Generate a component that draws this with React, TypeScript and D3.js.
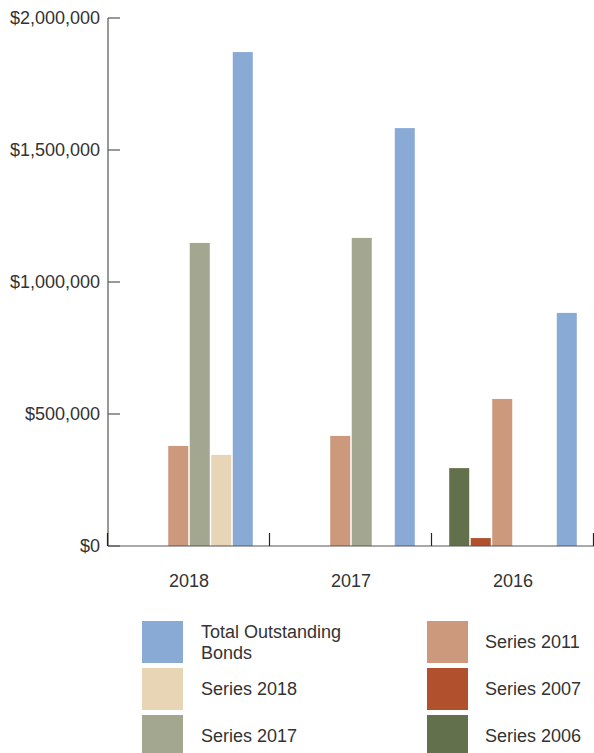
import React from "react";
import * as d3 from "d3";

const categories = ["2018", "2017", "2016"];
const seriesKeys = ["Series 2006", "Series 2007", "Series 2011", "Series 2017", "Series 2018", "Total Outstanding Bonds"];
const series2006 = [0, 0, 295000];
const series2007 = [0, 0, 30000];
const series2011 = [379000, 417000, 557000];
const series2017 = [1148000, 1167000, 0];
const series2018 = [345000, 0, 0];
const totalOutstanding = [1871000, 1583000, 883000];
const yTicks = [0, 500000, 1000000, 1500000, 2000000];
const colors = ["#62704b", "#b0502d", "#cc997d", "#a4a790", "#e8d5b5", "#8aaad6"];

const seriesValues = [series2006, series2007, series2011, series2017, series2018, totalOutstanding];

const legendLeft = [
  { key: "Total Outstanding Bonds", lines: ["Total Outstanding", "Bonds"], color: colors[5] },
  { key: "Series 2018", lines: ["Series 2018"], color: colors[4] },
  { key: "Series 2017", lines: ["Series 2017"], color: colors[3] },
];
const legendRight = [
  { key: "Series 2011", lines: ["Series 2011"], color: colors[2] },
  { key: "Series 2007", lines: ["Series 2007"], color: colors[1] },
  { key: "Series 2006", lines: ["Series 2006"], color: colors[0] },
];

const W = 594;
const H = 753;
const left = 108;
const right = 594;
const top = 18;
const bottom = 546;
const font = "Arial, 'Liberation Sans', sans-serif";
const textColor = "#333";
const fs = 18;

export default function App() {
  const x0 = d3.scaleBand<string>().domain(categories).range([left, right]).paddingInner(0).paddingOuter(0);
  const x1 = d3
    .scaleBand<string>()
    .domain(seriesKeys)
    .range([0, x0.bandwidth()])
    .paddingInner(0.07)
    .paddingOuter(0.8);
  const y = d3.scaleLinear().domain([0, 2000000]).range([bottom, top]);
  const fmt = (v: number) => "$" + d3.format(",")(v);

  const boundaries = [...categories.map((c) => x0(c) as number), right];

  const rowPitch = 47;
  const legendTop = 621;

  return (
    <svg width={W} height={H} style={{ position: "absolute", left: 0, top: 0, background: "#fff" }}>
      {categories.map((c, ci) => (
        <g key={c} transform={`translate(${x0(c)},0)`}>
          {seriesKeys.map((k, si) => {
            const v = seriesValues[si][ci];
            if (!v) return null;
            return (
              <rect
                key={k}
                x={x1(k)}
                y={y(v)}
                width={x1.bandwidth()}
                height={bottom - y(v)}
                fill={colors[si]}
              />
            );
          })}
        </g>
      ))}
      <line x1={left} x2={left} y1={top} y2={bottom} stroke="#555" strokeWidth={1.2} />
      {yTicks.map((t) => (
        <g key={t}>
          <line x1={left} x2={left + 12} y1={y(t)} y2={y(t)} stroke="#555" strokeWidth={1.2} />
          <text
            x={left - 8}
            y={y(t)}
            dy="0.35em"
            textAnchor="end"
            fontFamily={font}
            fontSize={fs}
            fill={textColor}
          >
            {fmt(t)}
          </text>
        </g>
      ))}
      <line x1={left} x2={right} y1={bottom} y2={bottom} stroke="#555" strokeWidth={1.2} />
      {boundaries.map((b, i) => (
        <line key={i} x1={b - 0.5} x2={b - 0.5} y1={bottom} y2={bottom - 13} stroke="#222" strokeWidth={1.2} />
      ))}
      {categories.map((c) => (
        <text
          key={c}
          x={(x0(c) as number) + x0.bandwidth() / 2}
          y={587}
          textAnchor="middle"
          fontFamily={font}
          fontSize={fs}
          fill={textColor}
        >
          {c}
        </text>
      ))}
      {[legendLeft, legendRight].map((col, colI) => {
        const sx = colI === 0 ? 142 : 427;
        const tx = colI === 0 ? 201 : 485;
        return (
          <g key={colI}>
            {col.map((item, i) => {
              const ry = legendTop + i * rowPitch;
              const cy = ry + 21;
              return (
                <g key={item.key}>
                  <rect x={sx} y={ry} width={41} height={42} fill={item.color} />
                  {item.lines.map((ln, li) => (
                    <text
                      key={li}
                      x={tx}
                      y={cy + (li - (item.lines.length - 1) / 2) * 21}
                      dy="0.35em"
                      fontFamily={font}
                      fontSize={fs}
                      fill={textColor}
                    >
                      {ln}
                    </text>
                  ))}
                </g>
              );
            })}
          </g>
        );
      })}
    </svg>
  );
}
